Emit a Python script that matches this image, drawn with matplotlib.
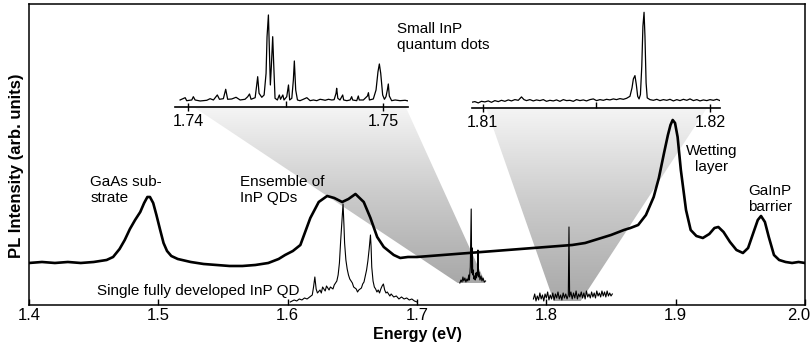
import numpy as np
import matplotlib
matplotlib.use("Agg")
import matplotlib.pyplot as plt
import matplotlib.transforms as mtransforms
from matplotlib.patches import Polygon
from matplotlib.colors import LinearSegmentedColormap

plt.rcParams['font.family'] = ['Liberation Sans', 'DejaVu Sans']

# ensemble PL (thick line), energy in eV, intensity arb. units
ens_energy = [1.400, 1.410, 1.420, 1.430, 1.440, 1.450, 1.460, 1.465, 1.470, 1.474, 1.478,
              1.482, 1.486, 1.489, 1.4915, 1.4935, 1.496, 1.4985, 1.5014, 1.504, 1.5067, 1.510,
              1.515, 1.525, 1.535, 1.545, 1.555, 1.565, 1.575, 1.585, 1.593, 1.598, 1.604,
              1.6098, 1.6175, 1.624, 1.6305, 1.636, 1.6421, 1.647, 1.6524, 1.6588, 1.664, 1.6692,
              1.6743, 1.682, 1.687, 1.693, 1.700, 1.710, 1.720, 1.730, 1.740, 1.750, 1.760,
              1.770, 1.780, 1.790, 1.800, 1.810, 1.820, 1.830, 1.840, 1.850, 1.860, 1.865,
              1.871, 1.877, 1.883, 1.887, 1.891, 1.894, 1.896, 1.8977, 1.8995, 1.9015, 1.904,
              1.908, 1.9116, 1.916, 1.921, 1.926, 1.930, 1.933, 1.937, 1.942, 1.947, 1.952,
              1.956, 1.960, 1.9635, 1.966, 1.969, 1.972, 1.976, 1.980, 1.985, 1.990, 1.995,
              2.000]
ens_pl = [4.2, 4.3, 4.2, 4.3, 4.2, 4.3, 4.5, 4.8, 5.6, 6.5, 7.6,
          8.5, 9.3, 10.2, 10.8, 10.8, 10.2, 9.0, 7.5, 6.2, 5.4, 4.9,
          4.6, 4.3, 4.1, 4.0, 3.9, 3.9, 4.0, 4.2, 4.6, 5.0, 5.4,
          6.0, 8.7, 10.3, 10.9, 10.7, 10.3, 10.6, 11.1, 10.3, 8.7, 6.8,
          5.8, 5.0, 4.7, 4.8, 4.8, 4.9, 5.0, 5.1, 5.2, 5.3, 5.4,
          5.5, 5.6, 5.7, 5.8, 5.9, 6.0, 6.2, 6.6, 7.0, 7.5, 7.7,
          8.0, 9.0, 10.8, 12.7, 15.2, 17.0, 18.0, 18.5, 18.2, 16.8, 13.5,
          9.5, 7.5, 6.9, 6.7, 7.1, 7.7, 7.8, 7.3, 6.3, 5.5, 5.2,
          5.7, 7.2, 8.5, 8.9, 8.3, 6.8, 5.0, 4.5, 4.3, 4.2, 4.3,
          4.2]

# single fully developed InP QD
qd_energy = [1.602, 1.605, 1.607, 1.609, 1.611, 1.613, 1.615, 1.617, 1.619, 1.620, 1.621,
             1.622, 1.623, 1.625, 1.626, 1.627, 1.629, 1.630, 1.632, 1.633, 1.635, 1.636,
             1.638, 1.639, 1.640, 1.641, 1.642, 1.6428, 1.6435, 1.644, 1.645, 1.646, 1.647,
             1.648, 1.650, 1.651, 1.653, 1.654, 1.655, 1.657, 1.658, 1.659, 1.660, 1.661,
             1.662, 1.663, 1.664, 1.6645, 1.665, 1.666, 1.667, 1.668, 1.669, 1.670, 1.671,
             1.672, 1.673, 1.674, 1.675, 1.676, 1.677, 1.679, 1.680, 1.682, 1.684, 1.686,
             1.688, 1.690, 1.692, 1.694, 1.696, 1.698, 1.700]
qd_pl = [0.3, 0.5, 0.4, 0.6, 0.5, 0.7, 0.6, 0.8, 1.0, 1.8, 2.8,
         1.6, 1.2, 1.5, 1.2, 1.8, 1.4, 1.9, 1.5, 1.8, 1.6, 2.0,
         2.4, 3.0, 4.2, 6.5, 8.5, 10.1, 8.0, 6.2, 4.5, 3.6, 3.0,
         2.6, 2.2, 1.8, 1.6, 1.3, 1.5, 1.7, 2.1, 2.3, 2.9, 3.5,
         4.4, 5.6, 7.0, 5.8, 3.8, 2.4, 1.8, 1.6, 1.3, 1.5, 1.2,
         1.6, 1.9, 2.1, 1.5, 1.2, 1.3, 0.9, 1.1, 0.8, 0.9, 0.6,
         0.8, 0.6, 0.7, 0.5, 0.6, 0.4, 0.3]

# small InP QDs, window around 1.745 eV
sq1_energy = [1.7331, 1.7340, 1.7348, 1.7355, 1.7362, 1.7370, 1.7378, 1.7386, 1.7393, 1.7400,
              1.7405, 1.7412, 1.7419, 1.7423, 1.7428, 1.7431, 1.7435, 1.7440, 1.7445, 1.7450,
              1.7455, 1.7460, 1.7465, 1.7468, 1.7471, 1.7475, 1.7480, 1.7487, 1.7495, 1.7502,
              1.7510, 1.7520, 1.7530]
sq1_pl = [2.2, 2.5, 2.3, 2.8, 2.4, 2.7, 2.3, 2.6, 2.4, 3.0,
          2.5, 3.8, 9.6, 3.2, 5.7, 3.0, 3.5, 2.6, 2.9, 2.5,
          3.2, 2.7, 3.3, 3.0, 5.5, 2.8, 3.3, 2.5, 2.9, 2.4,
          2.7, 2.3, 2.4]

# small InP QDs, window around 1.817 eV
sq2_energy = [1.790, 1.791, 1.792, 1.793, 1.794, 1.795, 1.796, 1.797, 1.798, 1.799,
              1.800, 1.801, 1.802, 1.803, 1.804, 1.805, 1.806, 1.807, 1.808, 1.809,
              1.810, 1.811, 1.812, 1.813, 1.814, 1.815, 1.816, 1.817, 1.8175, 1.818,
              1.819, 1.820, 1.821, 1.822, 1.823, 1.824, 1.825, 1.826, 1.827, 1.828,
              1.829, 1.830, 1.831, 1.832, 1.833, 1.834, 1.835, 1.836, 1.837, 1.838,
              1.839, 1.840, 1.841, 1.842, 1.843, 1.844, 1.845, 1.846, 1.847, 1.848,
              1.849, 1.850, 1.851]
sq2_pl = [0.6, 1.1, 0.4, 0.9, 0.5, 1.2, 0.6, 1.0, 0.4, 1.1,
          0.7, 1.3, 0.5, 1.0, 0.6, 1.2, 0.5, 1.1, 0.7, 1.3,
          0.6, 1.0, 0.5, 1.2, 0.7, 1.1, 0.6, 1.0, 7.8, 0.8,
          1.3, 0.6, 1.2, 0.7, 1.4, 0.6, 1.1, 0.8, 1.3, 0.7,
          1.2, 0.6, 1.4, 0.8, 1.1, 0.7, 1.3, 0.8, 1.2, 0.7,
          1.4, 0.9, 1.2, 0.8, 1.4, 0.9, 1.3, 0.8, 1.4, 0.9,
          1.2, 0.9, 1.1]

# high resolution insets
ins1_energy = [1.73959, 1.73985, 1.73993, 1.74019, 1.74027, 1.74036, 1.74062, 1.74096, 1.74113,
               1.74130, 1.74150, 1.74161, 1.74181, 1.74193, 1.74203, 1.74224, 1.74246, 1.74267,
               1.74292, 1.74306, 1.74315, 1.74323, 1.74344, 1.74352, 1.74357, 1.74364, 1.74378,
               1.74390, 1.74400, 1.74405, 1.74412, 1.74417, 1.74422, 1.74427, 1.74434, 1.74439,
               1.74446, 1.74458, 1.74468, 1.74474, 1.74486, 1.74492, 1.74506, 1.74515, 1.74521,
               1.74532, 1.74540, 1.74545, 1.74552, 1.74561, 1.74574, 1.74591, 1.74609, 1.74626,
               1.74643, 1.74660, 1.74677, 1.74689, 1.74703, 1.74720, 1.74737, 1.74749, 1.74759,
               1.74762, 1.74768, 1.74779, 1.74793, 1.74798, 1.74814, 1.74831, 1.74839, 1.74844,
               1.74865, 1.74873, 1.74878, 1.74899, 1.74920, 1.74925, 1.74930, 1.74950, 1.74964,
               1.74974, 1.74981, 1.74988, 1.74998, 1.75007, 1.75015, 1.75022, 1.75027, 1.75032,
               1.75044, 1.75062, 1.75087, 1.75113, 1.75130]
ins1_pl = [7.0, 9.3, 6.3, 7.0, 10.3, 7.0, 6.0, 6.7, 8.3,
           7.0, 12.0, 7.7, 8.3, 17.7, 7.7, 8.0, 9.7, 7.0,
           7.7, 10.3, 13.0, 7.7, 9.3, 22.0, 30.3, 13.7, 9.7,
           12.0, 33.7, 70.3, 92.0, 57.0, 22.0, 40.3, 70.3, 43.7,
           8.7, 7.0, 12.0, 7.7, 12.0, 7.0, 10.3, 22.0, 7.0,
           8.7, 27.0, 46.0, 17.0, 7.0, 6.3, 7.7, 9.3, 6.3,
           7.0, 6.3, 7.7, 7.3, 6.7, 7.7, 7.0, 7.3, 13.7,
           18.7, 8.7, 7.0, 12.0, 7.0, 6.3, 7.0, 10.3, 7.0,
           6.3, 11.0, 7.0, 7.0, 11.0, 14.3, 7.0, 8.0, 17.0,
           35.3, 43.0, 33.7, 12.0, 7.7, 10.3, 17.0, 23.0, 11.0,
           6.3, 7.0, 6.3, 6.7, 6.0]

ins2_energy = [1.80951, 1.80966, 1.80981, 1.80995, 1.81010, 1.81025, 1.81039, 1.81054, 1.81069,
               1.81083, 1.81098, 1.81113, 1.81127, 1.81142, 1.81157, 1.81171, 1.81182, 1.81193,
               1.81208, 1.81223, 1.81237, 1.81252, 1.81267, 1.81281, 1.81296, 1.81311, 1.81325,
               1.81340, 1.81355, 1.81369, 1.81384, 1.81399, 1.81413, 1.81428, 1.81443, 1.81457,
               1.81472, 1.81487, 1.81501, 1.81516, 1.81531, 1.81545, 1.81560, 1.81575, 1.81589,
               1.81604, 1.81619, 1.81633, 1.81648, 1.81657, 1.81663, 1.81670, 1.81676, 1.81682,
               1.81688, 1.81694, 1.81700, 1.81705, 1.81710, 1.81714, 1.81719, 1.81724, 1.81736,
               1.81751, 1.81766, 1.81780, 1.81795, 1.81810, 1.81824, 1.81839, 1.81854, 1.81868,
               1.81883, 1.81898, 1.81912, 1.81927, 1.81942, 1.81956, 1.81971, 1.81986, 1.82000,
               1.82015, 1.82030, 1.82044]
ins2_pl = [5.3, 6.0, 4.7, 6.3, 5.7, 6.7, 5.3, 7.0, 6.0,
           7.3, 6.3, 7.7, 6.7, 8.0, 7.3, 10.7, 8.0, 7.0,
           8.0, 6.7, 7.7, 7.0, 8.0, 6.3, 7.3, 6.7, 7.7,
           6.3, 8.0, 7.0, 7.3, 6.3, 8.0, 7.0, 7.7, 6.7,
           8.0, 8.7, 7.0, 8.0, 7.3, 8.3, 7.7, 8.7, 8.0,
           9.0, 8.3, 9.3, 11.3, 19.7, 28.7, 32.0, 23.0, 11.3,
           8.7, 13.0, 41.3, 81.3, 95.3, 71.3, 24.7, 9.7, 8.0,
           7.3, 8.3, 7.0, 8.0, 7.3, 8.3, 6.7, 8.0, 7.0,
           8.3, 7.3, 8.7, 7.0, 8.0, 6.7, 7.7, 7.0, 8.0,
           7.3, 8.3, 7.0]

fig = plt.figure(figsize=(8.11, 3.51), dpi=100)
ax = fig.add_axes([0.0358, 0.1311, 0.9568, 0.8575])
ax.set_xlim(1.4, 2.0)
ax.set_ylim(0, 30.1)

ax.plot(ens_energy, ens_pl, color='black', lw=1.9, zorder=4, solid_joinstyle='round')
ax.plot(qd_energy, qd_pl, color='black', lw=0.8, zorder=3)
ax.plot(sq1_energy, sq1_pl, color='black', lw=0.8, zorder=3)
ax.plot(sq2_energy, sq2_pl, color='black', lw=0.8, zorder=3)

ax.set_xticks([1.4, 1.5, 1.6, 1.7, 1.8, 1.9, 2.0])
ax.set_xticklabels(['1.4', '1.5', '1.6', '1.7', '1.8', '1.9', '2.0'])
ax.tick_params(axis='x', direction='in', length=4, width=1, labelsize=12, pad=2)
ax.set_yticks([])
for s in ax.spines.values():
    s.set_linewidth(1.1)
# last label sits on the figure edge, nudge it inside
last = ax.get_xticklabels()[-1]
last.set_transform(last.get_transform() + mtransforms.ScaledTranslation(-6 / 100, 0, fig.dpi_scale_trans))

ax.set_xlabel('Energy (eV)', fontsize=11.5, fontweight='bold')
ax.xaxis.set_label_coords(0.5006, -0.073)
ax.set_ylabel('PL Intensity (arb. units)', fontsize=12, fontweight='bold')
ax.yaxis.set_label_coords(-0.006, 0.462)

ax.text(1.4472, 13.0, 'GaAs sub-\nstrate', fontsize=11, va='top', ha='left', linespacing=1.15)
ax.text(1.5633, 13.0, 'Ensemble of\nInP QDs', fontsize=11, va='top', ha='left', linespacing=1.15)
ax.text(1.9276, 16.1, 'Wetting\nlayer', fontsize=11, va='top', ha='center', linespacing=1.15)
ax.text(1.9729, 12.1, 'GaInP\nbarrier', fontsize=11, va='top', ha='center', linespacing=1.15)
ax.text(1.4526, 1.0, 'Single fully developed InP QD', fontsize=11, va='baseline', ha='left')
ax.text(1.6846, 28.3, 'Small InP\nquantum dots', fontsize=11, va='top', ha='left', linespacing=1.15)

# insets
ins_specs = [
    ([0.2158, 0.6952, 0.2873, 0.2764], (1.73933, 1.75128), [1.74, 1.75], ['1.74', '1.75'], [1.745],
     ins1_energy, ins1_pl, (0.08, 0.99), (1.7315, 1.7530, 2.2)),
    ([0.5816, 0.6934, 0.3062, 0.2764], (1.80952, 1.82044), [1.81, 1.82], ['1.81', '1.82'], [1.815],
     ins2_energy, ins2_pl, (0.058, 0.948), (1.8057, 1.8266, 0.4)),
]

gray = LinearSegmentedColormap.from_list('cone', ['#a8a8a8', '#cbcbcb', '#f5f5f5'])
grad = np.linspace(0, 1, 256).reshape(-1, 1)

for pos, xl, ticks, labels, minor, e, pl, top_frac, foot in ins_specs:
    ia = fig.add_axes(pos, facecolor='none')
    ia.plot(e, pl, color='black', lw=0.9)
    ia.set_xlim(*xl)
    ia.set_ylim(0, 97)
    for side in ['top', 'left', 'right']:
        ia.spines[side].set_visible(False)
    ia.spines['bottom'].set_linewidth(1.2)
    ia.set_yticks([])
    ia.set_xticks(ticks)
    ia.set_xticklabels(labels)
    ia.set_xticks(minor, minor=True)
    ia.tick_params(axis='x', which='major', direction='inout', length=6, width=1, labelsize=11.5, pad=2)
    ia.tick_params(axis='x', which='minor', direction='in', length=4, width=1)

    # shaded cone from inset down to the spectral window
    inv = ax.transData.inverted()
    tl = inv.transform(ia.transAxes.transform((top_frac[0], 0)))
    tr = inv.transform(ia.transAxes.transform((top_frac[1], 0)))
    verts = [tl, tr, (foot[1], foot[2]), (foot[0], foot[2])]
    poly = Polygon(verts, closed=True, transform=ax.transData, facecolor='none', edgecolor='none')
    ax.add_patch(poly)
    im = ax.imshow(grad, cmap=gray, origin='lower', aspect='auto',
                   extent=[1.4, 2.0, foot[2], tl[1]], zorder=1, interpolation='bilinear')
    im.set_clip_path(poly)

ax.set_xlim(1.4, 2.0)
ax.set_ylim(0, 30.1)

fig.savefig('out.png', dpi=100)
